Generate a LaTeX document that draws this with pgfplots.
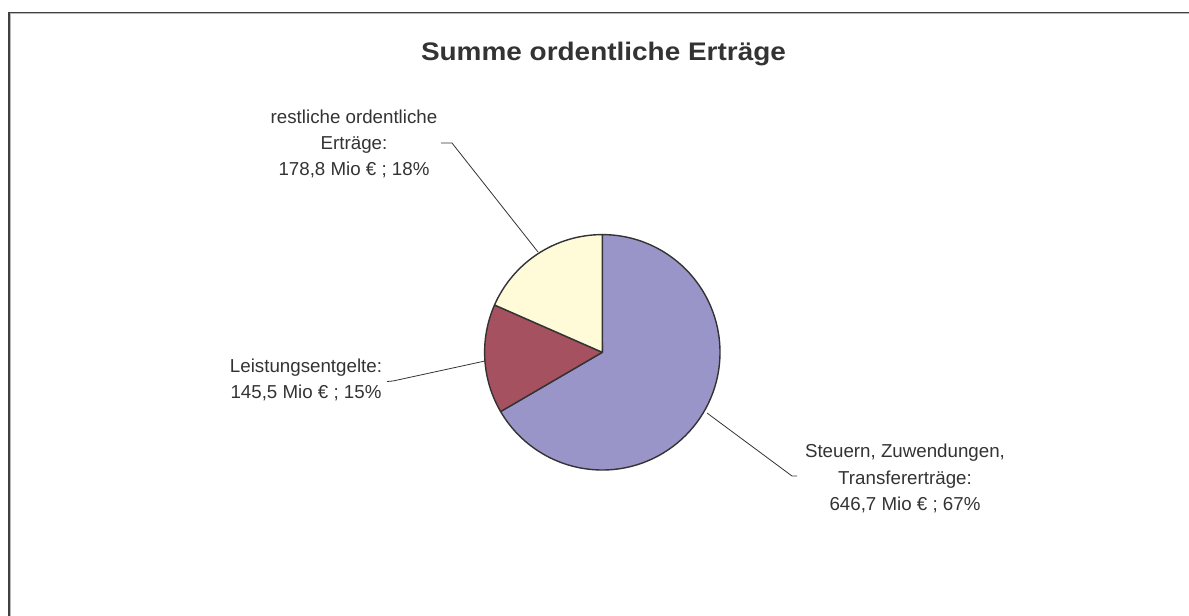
\documentclass[border=0pt]{standalone}
\usepackage{pgfplots}
\usepackage{pgfplotstable}
\usepackage{fontspec}
\setmainfont{Liberation Sans}
\pgfplotsset{compat=1.18}

\definecolor{sliceA}{RGB}{154,149,201}
\definecolor{sliceB}{RGB}{165,81,95}
\definecolor{sliceC}{RGB}{255,250,215}
\definecolor{edge}{RGB}{51,51,51}
\definecolor{txt}{RGB}{51,51,51}
\definecolor{frame}{RGB}{64,64,64}
\definecolor{frameshade}{RGB}{185,185,185}

% Mio EUR
\pgfplotstableread{
value
646.7
145.5
178.8
}\piedata

\newcommand{\lbl}{\fontsize{18.8}{26.5}\selectfont}

\begin{document}
\begin{tikzpicture}
% cumulative angles, clockwise from 12 o'clock
\pgfplotstablegetelem{0}{value}\of\piedata \let\vA\pgfplotsretval
\pgfplotstablegetelem{1}{value}\of\piedata \let\vB\pgfplotsretval
\pgfplotstablegetelem{2}{value}\of\piedata \let\vC\pgfplotsretval
\pgfmathsetmacro\tot{\vA+\vB+\vC}
\pgfmathsetmacro\aA{90}
\pgfmathsetmacro\aB{\aA-(\vA/\tot)*360}
\pgfmathsetmacro\aC{\aB-(\vB/\tot)*360}
\pgfmathsetmacro\aD{\aC-(\vC/\tot)*360}
\def\cx{602.3}\def\cy{263.7}\def\pieR{117.7}

\begin{axis}[
    x=1bp, y=1bp,
    xmin=0, xmax=1189, ymin=0, ymax=616,
    hide axis, clip=false,
]
% frame
\draw[frameshade, line width=1.1bp] (axis cs:10.3,-5) -- (axis cs:10.3,602.2) -- (axis cs:1200,602.2);
\draw[frame, line width=1.2bp] (axis cs:9,-5) -- (axis cs:9,603.3) -- (axis cs:1200,603.3);

% slices
\filldraw[fill=sliceA, draw=edge, line width=1.4bp, line join=round]
    (axis cs:\cx,\cy) -- ([shift={(\aA:\pieR bp)}]axis cs:\cx,\cy)
    arc[start angle=\aA, end angle=\aB, radius=\pieR bp] -- cycle;
\filldraw[fill=sliceB, draw=edge, line width=1.4bp, line join=round]
    (axis cs:\cx,\cy) -- ([shift={(\aB:\pieR bp)}]axis cs:\cx,\cy)
    arc[start angle=\aB, end angle=\aC, radius=\pieR bp] -- cycle;
\filldraw[fill=sliceC, draw=edge, line width=1.4bp, line join=round]
    (axis cs:\cx,\cy) -- ([shift={(\aC:\pieR bp)}]axis cs:\cx,\cy)
    arc[start angle=\aC, end angle=\aD, radius=\pieR bp] -- cycle;

% leader lines
\draw[edge, line width=0.8bp] (axis cs:441,473) -- (axis cs:452,473) -- (axis cs:538,364);
\draw[edge, line width=0.8bp] (axis cs:387,234.5) -- (axis cs:393,235) -- (axis cs:485,255);
\draw[edge, line width=0.8bp] (axis cs:707,203) -- (axis cs:792,140) -- (axis cs:797,140);

% labels
\node[txt, align=center, font=\lbl] at (axis cs:354,472)
    {restliche ordentliche\\Erträge:\\178,8 Mio € ; 18\%};
\node[txt, align=center, font=\lbl] at (axis cs:306,236)
    {Leistungsentgelte:\\145,5 Mio € ; 15\%};
\node[txt, align=center, font=\lbl] at (axis cs:905,137.5)
    {Steuern, Zuwendungen,\\Transfererträge:\\646,7 Mio € ; 67\%};

% title
\node[txt, anchor=base, font=\fontsize{25.5}{30}\selectfont\bfseries, xscale=1.1]
    at (axis cs:603.5,555.5) {Summe ordentliche Erträge};
\end{axis}
\pgfresetboundingbox
\path (0,0) rectangle (1189bp,616bp);
\end{tikzpicture}
\end{document}
